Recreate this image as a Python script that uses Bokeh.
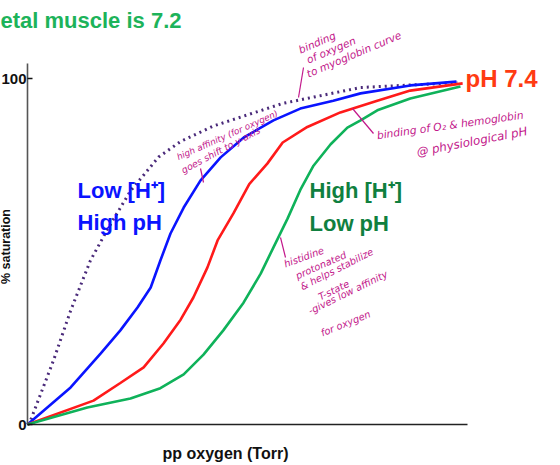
import math
from bokeh.plotting import figure
from bokeh.models import FixedTicker, Range1d
from bokeh.core.properties import value
from bokeh.embed import file_html
from bokeh.resources import INLINE

# ---- data (x: pp oxygen as % of axis length, y: % saturation) ----
myo_x = [0, 0.7, 5.9, 9.8, 14.3, 18.4, 23.4, 29.8, 34.8, 42.3, 58.0, 75.7, 97.7]
myo_y = [0, 1.2, 18.5, 32.9, 47.4, 56.9, 67.5, 77.3, 81.8, 86.3, 92.8, 97.4, 98.8]

blue_x = [0, 9.8, 16.6, 21.1, 25.0, 28.0, 30.2, 32.5, 35.5, 39.3, 43.9, 49.1, 55.9,
          62.0, 69.5, 75.7, 87.0, 97.5]
blue_y = [0, 10.7, 20.5, 27.2, 33.8, 39.6, 47.4, 55.2, 62.7, 70.5, 77.2, 82.9, 87.9,
          91.3, 93.6, 95.7, 98.0, 99.1]

red_x = [0, 15.0, 21.1, 26.4, 30.9, 34.8, 37.7, 40.9, 43.2, 46.8, 50.4, 54.5, 58.0,
         63.6, 71.1, 79.5, 87.0, 98.9]
red_y = [0, 6.9, 12.0, 16.5, 23.4, 30.3, 36.7, 45.4, 53.2, 61.0, 69.5, 75.4, 81.5,
         86.0, 90.2, 93.6, 96.5, 98.6]

green_x = [0, 13.6, 23.4, 30.2, 35.5, 40.0, 44.5, 49.1, 53.0, 55.9, 59.1, 62.0, 65.0,
           68.9, 72.7, 75.7, 79.5, 87.0, 98.4]
green_y = [0, 4.9, 7.5, 10.5, 14.5, 20.2, 27.2, 35.2, 43.6, 51.2, 59.5, 67.8, 74.8,
           81.0, 85.8, 87.9, 90.8, 94.2, 97.7]

y_ticks = [0, 100]

# ---- layout: frame covers the whole canvas; axes sit at fixed positions ----
W, H = 560, 465
X0, X1, YB, YT = 27, 467, 424, 63
PX_PER_X = (X1 - X0) / 100.0
PX_PER_Y = 3.46
BASE_SHIFT = 0.36  # em; compensates the renderer's baseline offset


def dx(px):
    return (px - X0) / PX_PER_X


def dy(py):
    return (YB - py) / PX_PER_Y


p = figure(width=W, height=H, output_backend="svg", toolbar_location=None,
           x_range=Range1d(dx(0), dx(W)), y_range=Range1d(dy(H), dy(0)),
           min_border=0, min_border_left=0, min_border_right=0,
           min_border_top=0, min_border_bottom=0)
p.outline_line_color = None
p.grid.visible = False
p.background_fill_color = "white"
p.border_fill_color = "white"

# axes
p.xaxis.fixed_location = 0
p.xaxis.bounds = (0, 100)
p.xaxis.ticker = FixedTicker(ticks=[])
p.xaxis.major_tick_line_color = None
p.xaxis.minor_tick_line_color = None
p.xaxis.major_label_text_font_size = "0px"
p.xaxis.axis_line_color = "#222222"
p.xaxis.axis_line_width = 1.6

p.yaxis.fixed_location = 0
p.yaxis.bounds = (0, dy(YT))
p.yaxis.ticker = FixedTicker(ticks=y_ticks, minor_ticks=[])
p.yaxis.major_tick_in = 5
p.yaxis.major_tick_out = 0
p.yaxis.major_tick_line_color = "#111111"
p.yaxis.major_tick_line_width = 1.5
p.yaxis.minor_tick_line_color = None
p.yaxis.axis_line_color = "#555555"
p.yaxis.axis_line_width = 1.6
p.yaxis.major_label_text_font = "Liberation Sans"
p.yaxis.major_label_text_font_style = "bold"
p.yaxis.major_label_text_font_size = "15px"
p.yaxis.major_label_text_color = "#111111"
p.yaxis.major_label_standoff = 1

# curves
p.line(myo_x, myo_y, line_color="#4a2a7a", line_width=3, line_dash="2 4")
p.line(blue_x, blue_y, line_color="#0a14ff", line_width=2.6)
p.line(red_x, red_y, line_color="#ff1a1a", line_width=2.6)
p.line(green_x, green_y, line_color="#0fb25a", line_width=2.6)


def lab(text, px, py, color, size, font="Liberation Sans", angle=0.0,
        align="left", style="bold"):
    off = BASE_SHIFT * size
    qx = px - math.sin(angle) * off
    qy = py - math.cos(angle) * off
    p.text(x=[dx(qx)], y=[dy(qy)], text=[text], angle=[angle],
           text_color=color, text_font=value(font), text_font_style=style,
           text_font_size=f"{size}px", text_baseline="alphabetic",
           text_align=align)


lab("etal muscle is 7.2", 0, 28, "#1db35a", 22)
lab("pH 7.4", 465, 87, "#ff3b12", 24)
lab("Low [H\u207a]", 77, 198, "#0a14ff", 22)
lab("High pH", 77, 230, "#0a14ff", 22)
lab("High [H\u207a]", 309, 198, "#10803f", 22)
lab("Low pH", 309, 231, "#10803f", 22)
lab("pp oxygen (Torr)", 225, 459, "#111111", 16, align="center")
lab("% saturation", 10, 246, "#111111", 12.5, angle=math.pi / 2, align="center")

# handwritten notes
notes = [
    ("binding", 300, 53, 23, 10.5),
    ("of oxygen", 308, 63, 23, 10.5),
    ("to myoglobin curve", 308, 77, 23, 10.5),
    ("high affinity (for oxygen)", 178, 160, 24, 8.8),
    ("goes shift to y-axis", 183, 173, 28, 9.3),
    ("binding of O\u2082 & hemoglobin", 377, 139, 8, 10.7),
    ("@ physiological pH", 417, 156, 11, 11.8),
    ("histidine", 285, 267, 20, 9.8),
    ("protonated", 297, 279, 24, 9.8),
    ("& helps stabilize", 302, 290, 27, 9.8),
    ("T-state", 320, 300, 26, 9.8),
    ("-gives low affinity", 310, 314, 26, 9.8),
    ("for oxygen", 322, 336, 22, 9.8),
]
pointers = [
    (303, 67, 298, 97),
    (200, 168, 203, 182),
    (352, 108, 373, 133),
    (280, 237, 285, 257),
]
for t, px, py, ang, sz in notes:
    lab(t, px, py, "#c2168a", sz, font="DejaVu Sans", angle=math.radians(ang),
        style="italic")
p.segment(x0=[dx(a[0]) for a in pointers], y0=[dy(a[1]) for a in pointers],
          x1=[dx(a[2]) for a in pointers], y1=[dy(a[3]) for a in pointers],
          line_color="#c2168a", line_width=1.2)

open("out.html", "w").write(file_html(p, INLINE))
